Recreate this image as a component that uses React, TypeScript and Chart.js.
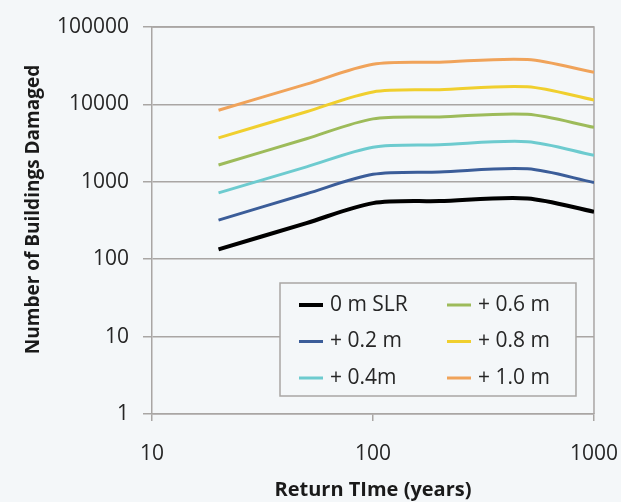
import React, { useEffect, useRef } from 'react';
import { Chart, registerables } from 'chart.js';

Chart.register(...registerables);

const returnTimes = [20, 50, 100, 200, 500, 1000];
const seriesLabels = ['0 m SLR', '+ 0.2 m', '+ 0.4m', '+ 0.6 m', '+ 0.8 m', '+ 1.0 m'];
const slr00 = [134, 293, 530, 565, 610, 410];
const slr02 = [320, 700, 1250, 1340, 1470, 980];
const slr04 = [720, 1560, 2800, 3005, 3300, 2200];
const slr06 = [1650, 3600, 6500, 6890, 7450, 5050];
const slr08 = [3700, 8040, 14500, 15490, 16900, 11400];
const slr10 = [8400, 18300, 33000, 35080, 38000, 26000];
const xTicks = [10, 100, 1000];
const yTicks = [1, 10, 100, 1000, 10000, 100000];
const xTitle = 'Return TIme (years)';
const yTitle = 'Number of Buildings Damaged';

const seriesValues = [slr00, slr02, slr04, slr06, slr08, slr10];
const colors = ['#000000', '#3b5d99', '#6dcbcf', '#9dbb5a', '#f0cf2e', '#f0a35a'];
const widths = [4, 3, 3, 3, 3, 3];

const BG = '#f4f7f9';
const GRID = '#a9a6a4';
const TEXT = '#262626';
const FAMILY = '"Open Sans", sans-serif';

const plotBorder = {
  id: 'plotBorder',
  beforeDatasetsDraw(chart: any) {
    const { ctx, chartArea } = chart;
    ctx.save();
    ctx.strokeStyle = GRID;
    ctx.lineWidth = 1.5;
    ctx.beginPath();
    ctx.moveTo(chartArea.left, chartArea.top);
    ctx.lineTo(chartArea.right, chartArea.top);
    ctx.lineTo(chartArea.right, chartArea.bottom);
    ctx.stroke();
    ctx.restore();
  },
};

const yAxisTitle = {
  id: 'yAxisTitle',
  afterDraw(chart: any) {
    const { ctx, chartArea } = chart;
    ctx.save();
    ctx.translate(34, (chartArea.top + chartArea.bottom) / 2 - 11);
    ctx.rotate(-Math.PI / 2);
    ctx.font = `bold 19px ${FAMILY}`;
    ctx.fillStyle = '#1a1a1a';
    ctx.textAlign = 'center';
    ctx.textBaseline = 'middle';
    ctx.fillText(yTitle, 0, 0);
    ctx.restore();
  },
};

const boxLegend = {
  id: 'boxLegend',
  afterDraw(chart: any) {
    const { ctx, chartArea } = chart;
    const left = chartArea.left + 128;
    const right = chartArea.right - 18;
    const bottom = chartArea.bottom - 18;
    const top = bottom - 113;
    ctx.save();
    ctx.fillStyle = BG;
    ctx.fillRect(left, top, right - left, bottom - top);
    ctx.strokeStyle = GRID;
    ctx.lineWidth = 1.5;
    ctx.strokeRect(left, top, right - left, bottom - top);
    ctx.font = `21px ${FAMILY}`;
    ctx.textBaseline = 'middle';
    ctx.textAlign = 'left';
    chart.data.datasets.forEach((ds: any, i: number) => {
      const col = Math.floor(i / 3);
      const row = i % 3;
      const x0 = left + 19 + col * 148;
      const y = top + 22 + row * 36.5;
      ctx.strokeStyle = ds.borderColor;
      ctx.lineWidth = ds.borderWidth;
      ctx.beginPath();
      ctx.moveTo(x0, y);
      ctx.lineTo(x0 + 24, y);
      ctx.stroke();
      ctx.fillStyle = TEXT;
      ctx.fillText(ds.label, x0 + 31, y);
    });
    ctx.restore();
  },
};

export default function App() {
  const ref = useRef<HTMLCanvasElement | null>(null);

  useEffect(() => {
    if (!ref.current) return;
    const chart = new Chart(ref.current, {
      type: 'line',
      data: {
        datasets: seriesValues.map((vals, i) => ({
          label: seriesLabels[i],
          data: returnTimes.map((x, j) => ({ x, y: vals[j] })),
          borderColor: colors[i],
          backgroundColor: colors[i],
          borderWidth: widths[i],
          pointRadius: 0,
          tension: 0.3,
          fill: false,
        })),
      },
      options: {
        responsive: false,
        animation: false,
        devicePixelRatio: 1,
        layout: { padding: { top: 27, right: 0, left: 0, bottom: 0 } },
        plugins: {
          legend: { display: false },
          tooltip: { enabled: false },
        },
        scales: {
          x: {
            type: 'logarithmic',
            min: 10,
            max: 1000,
            afterBuildTicks: (s: any) => {
              s.ticks = xTicks.map((v) => ({ value: v }));
            },
            afterFit: (s: any) => {
              s.height = 88;
            },
            grid: { drawOnChartArea: false, drawTicks: true, tickLength: 7, color: GRID, lineWidth: 1.5 },
            border: { color: GRID, width: 1.5 },
            ticks: {
              callback: (v: any) => String(v),
              font: { family: FAMILY, size: 21, lineHeight: 2.86 },
              color: TEXT,
              padding: 3,
              maxRotation: 0,
              autoSkip: false,
            },
            title: {
              display: true,
              text: xTitle,
              color: '#1a1a1a',
              font: { family: FAMILY, size: 20, weight: 'bold' },
              padding: { top: 0, bottom: 0 },
            },
          },
          y: {
            type: 'logarithmic',
            min: 1,
            max: 100000,
            afterBuildTicks: (s: any) => {
              s.ticks = yTicks.map((v) => ({ value: v }));
            },
            afterFit: (s: any) => {
              s.width = 152;
            },
            grid: { color: GRID, lineWidth: 1.5, tickLength: 9 },
            border: { color: GRID, width: 1.5 },
            ticks: {
              callback: (v: any) => String(v),
              font: { family: FAMILY, size: 21 },
              color: TEXT,
              padding: 14,
              autoSkip: false,
            },
            title: { display: false },
          },
        },
      },
      plugins: [plotBorder, boxLegend, yAxisTitle],
    } as any);
    return () => chart.destroy();
  }, []);

  return (
    <div style={{ position: 'absolute', left: 0, top: 0, width: 621, height: 502, background: BG }}>
      <canvas ref={ref} width={621} height={502} />
    </div>
  );
}
